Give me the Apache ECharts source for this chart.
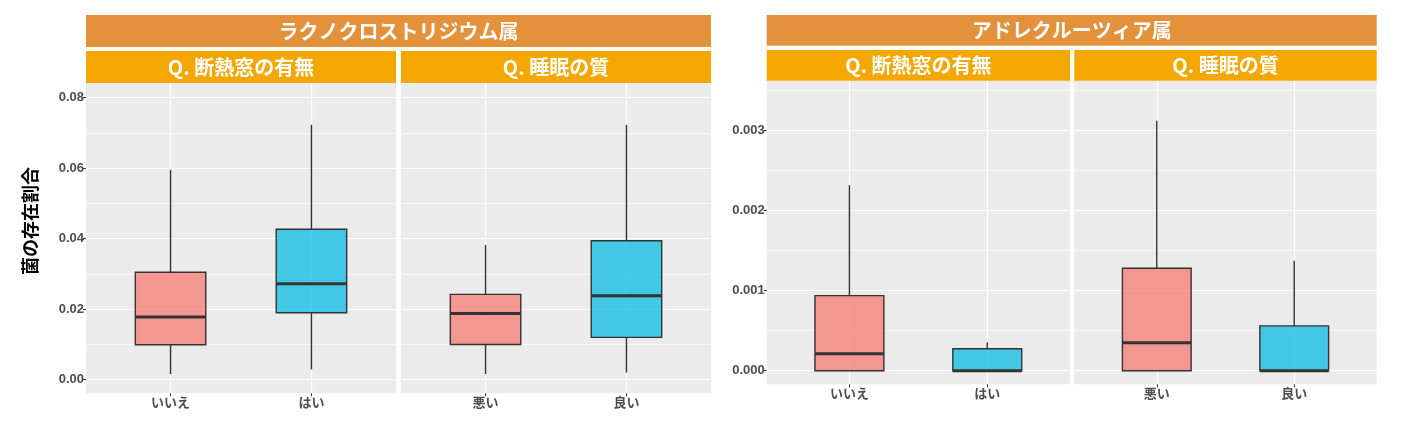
<!DOCTYPE html>
<html>
<head>
<meta charset="utf-8">
<script src="https://cdn.jsdelivr.net/npm/echarts@6/dist/echarts.min.js"></script>
<style>
  html, body { margin: 0; padding: 0; background: #fff; }
  #chart { width: 1401px; height: 428px; }
</style>
</head>
<body>
<div id="chart"></div>
<script>
// カテゴリ
var catsWindow = ['いいえ', 'はい'];
var catsSleep = ['悪い', '良い'];

// 箱ひげ図の値 [min, Q1, median, Q3, max]
var lachnoWindow = [[0.0016, 0.0099, 0.0178, 0.0305, 0.0595], [0.0029, 0.0190, 0.0272, 0.0427, 0.0723]];
var lachnoSleep = [[0.0016, 0.0100, 0.0188, 0.0242, 0.0382], [0.0020, 0.0120, 0.0238, 0.0394, 0.0723]];
var adlerWindow = [[0.0, 0.0, 0.000213, 0.000938, 0.00232], [0.0, 0.0, 0.0, 0.000275, 0.000355]];
var adlerSleep = [[0.0, 0.0, 0.00035, 0.00128, 0.003125], [0.0, 0.0, 0.0, 0.00056, 0.001375]];

// 目盛り
var lachnoTicks = [0, 0.02, 0.04, 0.06, 0.08];
var lachnoMinor = [0.01, 0.03, 0.05, 0.07];
var adlerTicks = [0, 0.001, 0.002, 0.003];
var adlerMinor = [0.0005, 0.0015, 0.0025, 0.0035];

var boxColors = ['rgba(248,118,109,0.72)', 'rgba(0,184,224,0.72)'];
var numFont = '"Liberation Sans", "Noto Sans CJK JP", sans-serif';
var jpFont = '"Noto Sans CJK JP", sans-serif';

var myChart = echarts.init(document.getElementById('chart'));

// パネル配置
var panels = [
  {left: 86, top: 83, width: 310, height: 310.3, cats: catsWindow, data: lachnoWindow, ticks: lachnoTicks, minor: lachnoMinor, min: -0.00386, max: 0.08417, digits: 2, showY: true},
  {left: 401, top: 83, width: 310, height: 310.3, cats: catsSleep, data: lachnoSleep, ticks: lachnoTicks, minor: lachnoMinor, min: -0.00386, max: 0.08417, digits: 2, showY: false},
  {left: 766.7, top: 80.7, width: 303.3, height: 303.6, cats: catsWindow, data: adlerWindow, ticks: adlerTicks, minor: adlerMinor, min: -0.00017, max: 0.003625, digits: 3, showY: true},
  {left: 1074.3, top: 80.7, width: 302.4, height: 303.6, cats: catsSleep, data: adlerSleep, ticks: adlerTicks, minor: adlerMinor, min: -0.00017, max: 0.003625, digits: 3, showY: false}
];

var grids = [], xAxes = [], yAxes = [], series = [];
panels.forEach(function (p, g) {
  grids.push({left: p.left, top: p.top, width: p.width, height: p.height, show: true, backgroundColor: '#EBEBEB', borderWidth: 0});
  xAxes.push({
    type: 'value', gridIndex: g, min: -0.6, max: 1.6, position: 'bottom',
    axisLine: {show: false, onZero: false},
    axisTick: {show: true, length: 3, customValues: [0, 1], lineStyle: {color: '#333', width: 1}},
    axisLabel: {customValues: [0, 1], margin: 2, color: '#4D4D4D', fontSize: 13, fontWeight: 'bold', fontFamily: jpFont,
      formatter: (function (cats) { return function (v) { return cats[Math.round(v)] || ''; }; })(p.cats)},
    splitLine: {show: true, lineStyle: {color: '#fff', width: 1.2}}
  });
  yAxes.push({
    type: 'value', gridIndex: g, min: p.min, max: p.max, position: 'left',
    axisLine: {show: false, onZero: false},
    axisTick: {show: p.showY, length: 3, customValues: p.ticks, lineStyle: {color: '#333', width: 1}},
    axisLabel: {show: p.showY, customValues: p.ticks, margin: 2, color: '#4D4D4D', fontSize: 13, fontWeight: 'bold', fontFamily: numFont,
      formatter: (function (d) { return function (v) { return v.toFixed(d); }; })(p.digits)},
    splitLine: {show: true, lineStyle: {color: '#fff', width: 1.2}}
  });
  yAxes.push({
    type: 'value', gridIndex: g, min: p.min, max: p.max, position: 'right',
    axisLine: {show: false, onZero: false},
    axisTick: {show: false, customValues: p.minor},
    axisLabel: {show: false, customValues: p.minor},
    splitLine: {show: true, lineStyle: {color: '#fff', width: 0.6}}
  });
  series.push({
    type: 'custom', xAxisIndex: g, yAxisIndex: g * 2, clip: false,
    data: p.data.map(function (d, i) { return [i].concat(d); }),
    encode: {x: 0, y: [1, 2, 3, 4, 5]},
    renderItem: function (params, api) {
      var x = api.value(0), lo = api.value(1), q1 = api.value(2), med = api.value(3), q3 = api.value(4), hi = api.value(5);
      var tl = api.coord([x - 0.25, q3]), br = api.coord([x + 0.25, q1]);
      var pHi = api.coord([x, hi]), pQ3 = api.coord([x, q3]), pQ1 = api.coord([x, q1]), pLo = api.coord([x, lo]);
      var mL = api.coord([x - 0.25, med]), mR = api.coord([x + 0.25, med]);
      var line = {stroke: '#333', lineWidth: 1.4};
      return {
        type: 'group',
        children: [
          {type: 'line', shape: {x1: pHi[0], y1: pHi[1], x2: pQ3[0], y2: pQ3[1]}, style: line},
          {type: 'line', shape: {x1: pQ1[0], y1: pQ1[1], x2: pLo[0], y2: pLo[1]}, style: line},
          {type: 'rect', shape: {x: tl[0], y: tl[1], width: br[0] - tl[0], height: br[1] - tl[1]},
            style: {fill: boxColors[x], stroke: '#333', lineWidth: 1.4}},
          {type: 'line', shape: {x1: mL[0], y1: mL[1], x2: mR[0], y2: mR[1]}, style: {stroke: '#333', lineWidth: 3}}
        ]
      };
    }
  });
});

// ストリップ
function strip(x, y, w, h, color, label) {
  return {
    type: 'group', children: [
      {type: 'rect', shape: {x: x, y: y, width: w, height: h}, style: {fill: color}},
      {type: 'text', x: x + w / 2, y: y + h / 2,
        style: {text: label, fill: '#fff', font: 'bold 20px ' + jpFont, align: 'center', verticalAlign: 'middle'}}
    ]
  };
}

var graphics = [
  strip(86, 15, 625, 32, '#E3913B', 'ラクノクロストリジウム属'),
  strip(86, 51, 310, 32, '#F4A700', 'Q. 断熱窓の有無'),
  strip(401, 51, 310, 32, '#F4A700', 'Q. 睡眠の質'),
  strip(766.7, 15, 610, 30.7, '#E3913B', 'アドレクルーツィア属'),
  strip(766.7, 50, 303.3, 30.7, '#F4A700', 'Q. 断熱窓の有無'),
  strip(1074.3, 50, 302.4, 30.7, '#F4A700', 'Q. 睡眠の質'),
  {type: 'text', x: 30, y: 221, rotation: Math.PI / 2,
    style: {text: '菌の存在割合', fill: '#000', font: 'bold 18px ' + jpFont, align: 'center', verticalAlign: 'middle'}}
];

option = {
  backgroundColor: '#fff',
  animation: false,
  grid: grids,
  xAxis: xAxes,
  yAxis: yAxes,
  series: series,
  graphic: graphics
};
myChart.setOption(option);
</script>
</body>
</html>
